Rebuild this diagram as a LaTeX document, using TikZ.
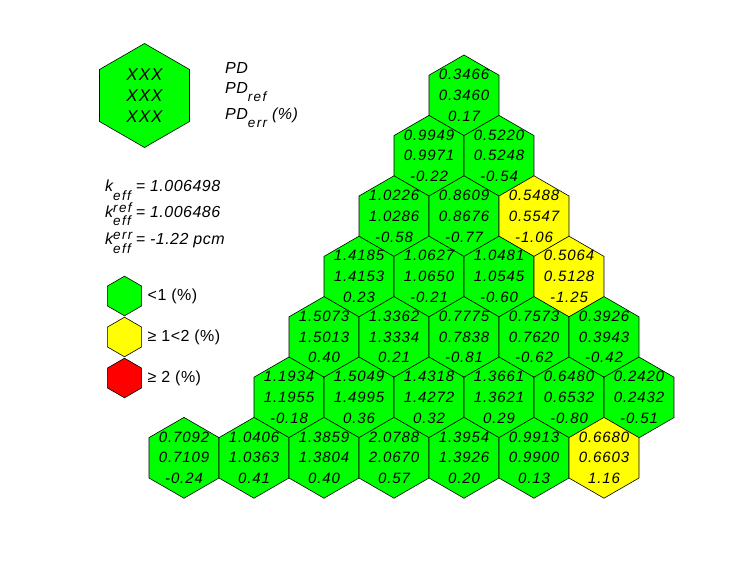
\documentclass[tikz,border=0pt]{standalone}
\usepackage{fontspec}
\setmainfont{Liberation Sans}[LetterSpace=3]
\newfontfamily\numfont{Liberation Sans}[LetterSpace=6]
\newfontfamily\subfont{Liberation Sans}[LetterSpace=10]
\newcommand\idx[2]{{\subfont\itshape\fontsize{13.5}{13.5}\selectfont\raisebox{-8.5pt}{\rlap{#2}}\raisebox{5pt}{\rlap{#1}}\phantom{#2}}}
\definecolor{cellgreen}{RGB}{0,255,0}
\definecolor{cellyellow}{RGB}{255,255,0}
\definecolor{cellred}{RGB}{255,0,0}
\tikzset{
  hexcell/.style={draw=black, line width=0.6pt},
  celltext/.style={font=\numfont\itshape\fontsize{15}{20.8}\selectfont, align=center, inner sep=0pt},
  keytext/.style={font=\numfont\itshape\fontsize{17}{21}\selectfont, align=center, inner sep=0pt},
  labtext/.style={font=\itshape\fontsize{16}{19}\selectfont, inner sep=0pt, anchor=base west},
  legtext/.style={font=\fontsize{16}{19}\selectfont, inner sep=0pt, anchor=west},
}
\begin{document}
\begin{tikzpicture}[x=1pt,y=-1pt]
  \def\R{40.4} \def\r{19.8}
  \def\cells{8/1/0.3466/0.3460/0.17/cellgreen, 7/2/0.9949/0.9971/-0.22/cellgreen, 9/2/0.5220/0.5248/-0.54/cellgreen,
    6/3/1.0226/1.0286/-0.58/cellgreen, 8/3/0.8609/0.8676/-0.77/cellgreen, 10/3/0.5488/0.5547/-1.06/cellyellow,
    5/4/1.4185/1.4153/0.23/cellgreen, 7/4/1.0627/1.0650/-0.21/cellgreen, 9/4/1.0481/1.0545/-0.60/cellgreen, 11/4/0.5064/0.5128/-1.25/cellyellow,
    4/5/1.5073/1.5013/0.40/cellgreen, 6/5/1.3362/1.3334/0.21/cellgreen, 8/5/0.7775/0.7838/-0.81/cellgreen, 10/5/0.7573/0.7620/-0.62/cellgreen, 12/5/0.3926/0.3943/-0.42/cellgreen,
    3/6/1.1934/1.1955/-0.18/cellgreen, 5/6/1.5049/1.4995/0.36/cellgreen, 7/6/1.4318/1.4272/0.32/cellgreen, 9/6/1.3661/1.3621/0.29/cellgreen, 11/6/0.6480/0.6532/-0.80/cellgreen, 13/6/0.2420/0.2432/-0.51/cellgreen,
    0/7/0.7092/0.7109/-0.24/cellgreen, 2/7/1.0406/1.0363/0.41/cellgreen, 4/7/1.3859/1.3804/0.40/cellgreen, 6/7/2.0788/2.0670/0.57/cellgreen, 8/7/1.3954/1.3926/0.20/cellgreen, 10/7/0.9913/0.9900/0.13/cellgreen, 12/7/0.6680/0.6603/1.16/cellyellow}
  \path[use as bounding box, fill=white] (0,0) rectangle (748,561);
  \foreach \cx/\cy/\pd/\pdref/\pderr/\fc in \cells {
    \coordinate (h\cx-\cy) at ({184+35*\cx},{95.4+60.4*(\cy-1)});
    \draw[hexcell, fill=\fc] (h\cx-\cy) +(90:\R) -- +(150:\R) -- +(210:\R) -- +(270:\R) -- +(330:\R) -- +(30:\R) -- cycle;
  }
  \foreach \cx/\cy/\pd/\pdref/\pderr/\fc in \cells
    \node[celltext] (t\cx-\cy) at (h\cx-\cy) {\pd\\\pdref\\\pderr};
  \coordinate (key) at (144.5,95.5);
  \draw[hexcell, fill=cellgreen] (key) +(90:52) -- +(150:52) -- +(210:52) -- +(270:52) -- +(330:52) -- +(30:52) -- cycle;
  \node[keytext] (keyxxx) at (key) {XXX\\XXX\\XXX};
  \node[labtext] (pd) at (225,74) {PD};
  \node[labtext] (pdref) at (225,93.3) {PD\idx{}{ref}};
  \node[labtext] (pderr) at (225,119.3) {PD\idx{}{err} (\%)};
  \node[labtext] (keff) at (105,191.7) {k\idx{}{eff} = 1.006498};
  \node[labtext] (keffref) at (105,217.3) {k\idx{ref}{eff} = 1.006486};
  \node[labtext] (kefferr) at (105,245) {k\idx{err}{eff} = -1.22 pcm};
  \foreach \ly/\fc/\txt [count=\i] in {296/cellgreen/{<1 (\%)}, 337/cellyellow/{≥ 1<2 (\%)}, 378/cellred/{≥ 2 (\%)}} {
    \coordinate (leg\i) at (124.5,\ly);
    \draw[hexcell, fill=\fc] (leg\i) +(90:\r) -- +(150:\r) -- +(210:\r) -- +(270:\r) -- +(330:\r) -- +(30:\r) -- cycle;
    \node[legtext] (legtxt\i) at (147.5,\ly) {\txt};
  }
\end{tikzpicture}
\end{document}
